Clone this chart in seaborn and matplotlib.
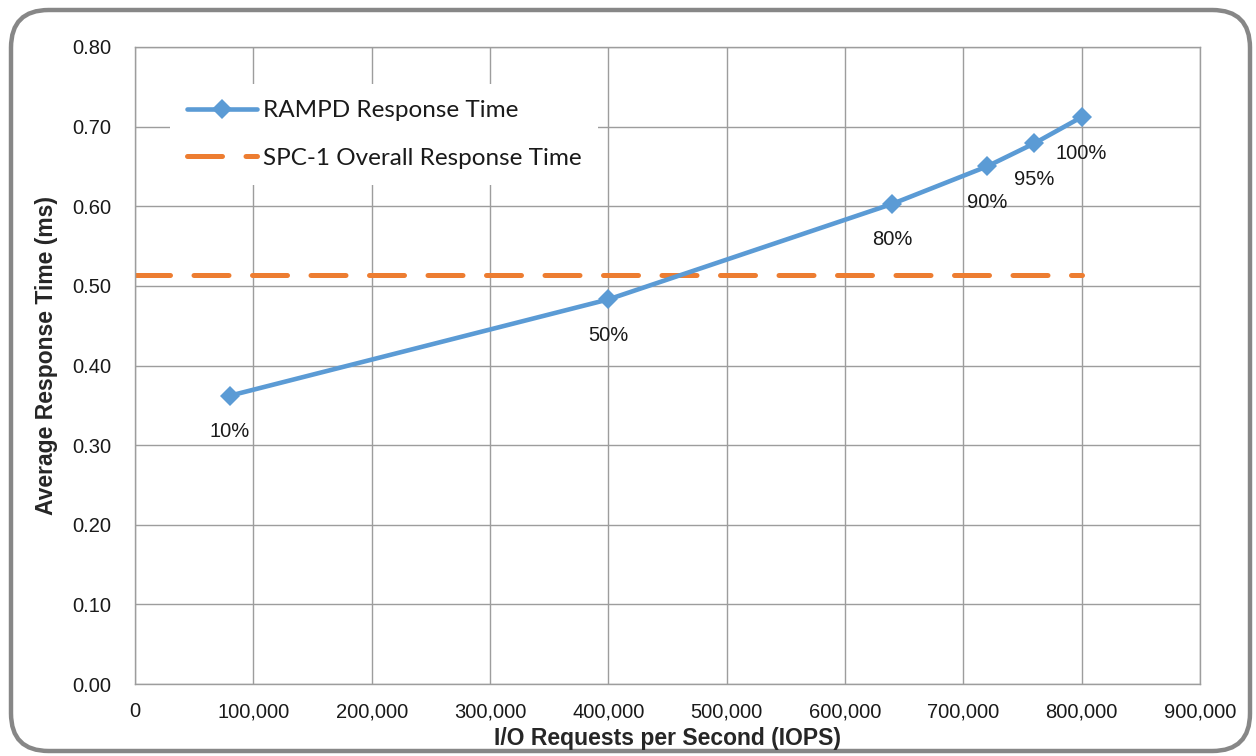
import numpy as np
import pandas as pd
import matplotlib
matplotlib.use("Agg")
import matplotlib.pyplot as plt
import seaborn as sns
from matplotlib.patches import FancyBboxPatch
from matplotlib.ticker import FuncFormatter, MultipleLocator

# data
load_levels = ["10%", "50%", "80%", "90%", "95%", "100%"]
iops = [80000, 400000, 640000, 720000, 760000, 800000]
resp_time = [0.362, 0.483, 0.603, 0.650, 0.679, 0.712]
overall_x = [0, 800000]
overall_rt = [0.514, 0.514]

rampd = pd.DataFrame({"iops": iops, "rt": resp_time, "level": load_levels})
overall = pd.DataFrame({"iops": overall_x, "rt": overall_rt})

blue = "#5B9BD5"
orange = "#ED7D31"
grid_c = "#9d9d9d"
dash_pat = (7.0, 4.7)

sns.set_theme(style="whitegrid")
plt.rcParams['font.family'] = ['Liberation Sans', 'DejaVu Sans']

fig = plt.figure(figsize=(12.56, 7.56), dpi=100)
ax = fig.add_axes([135/1256, 1-684/756, 1065/1256, 637/756])

# rounded outer border
border = FancyBboxPatch((11/1256, 5/756), 1239/1256, 741/756,
                        boxstyle="round,pad=0,rounding_size=0.03",
                        transform=fig.transFigure, facecolor="white",
                        edgecolor="#878787", linewidth=3.2, zorder=-10,
                        mutation_aspect=1256/756)
fig.patches.append(border)

sns.lineplot(data=rampd, x="iops", y="rt", ax=ax, color=blue, lw=3.3,
             marker="D", markersize=10, markeredgewidth=0,
             label="RAMPD Response Time", zorder=3)
sns.lineplot(data=overall, x="iops", y="rt", ax=ax, color=orange, lw=3.6,
             linestyle=(0, dash_pat), dash_capstyle="round",
             label="SPC-1 Overall Response Time", zorder=2)

for x, y, lab in zip(iops, resp_time, load_levels):
    ax.annotate(lab, (x, y), xytext=(0, -26), textcoords="offset points",
                ha="center", va="center", fontsize=14.5, color="#1a1a1a")

ax.set_xlim(0, 900000)
ax.set_ylim(0, 0.8)
ax.xaxis.set_major_locator(MultipleLocator(100000))
ax.yaxis.set_major_locator(MultipleLocator(0.1))
ax.xaxis.set_major_formatter(FuncFormatter(lambda v, p: f"{int(v):,}"))
ax.yaxis.set_major_formatter(FuncFormatter(lambda v, p: f"{v:.2f}"))

ax.grid(True, color=grid_c, lw=1.0)
for s in ax.spines.values():
    s.set_color(grid_c)
    s.set_linewidth(1.0)
ax.tick_params(axis="both", which="major", labelsize=14.5, colors="#1a1a1a",
               length=5, width=1.0, direction="out")
ax.tick_params(axis="x", pad=8, color=grid_c)
ax.tick_params(axis="y", pad=12, color=grid_c)

ax.set_xlabel("I/O Requests per Second (IOPS)", fontsize=16.5, fontweight="bold",
              labelpad=4)
ax.set_ylabel("Average Response Time (ms)", fontsize=16.5, fontweight="bold")
ax.yaxis.set_label_coords(-0.0725, 0.515)

leg = ax.legend(loc="upper left", bbox_to_anchor=(0.033, 0.942), borderaxespad=0,
                frameon=True, facecolor="white", edgecolor="none", framealpha=1,
                fancybox=False, handlelength=2.9, handletextpad=0.25,
                borderpad=0.68, labelspacing=1.08,
                prop={"family": "Lato", "size": 17.5})
for t in leg.get_texts():
    t.set_color("#1a1a1a")

fig.savefig("out.png", dpi=100)
